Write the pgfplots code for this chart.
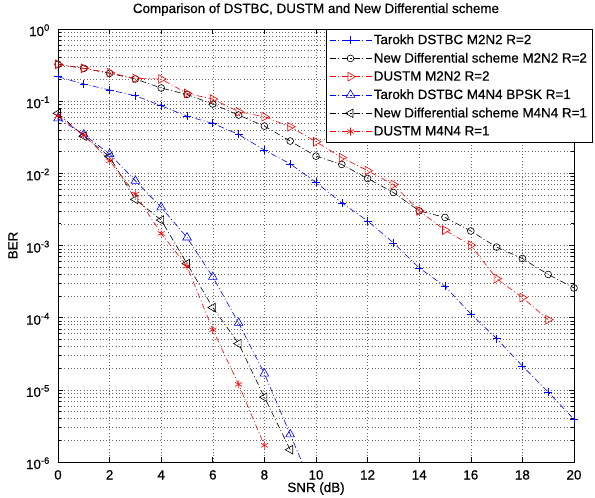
\documentclass[border=0pt]{standalone}
\usepackage{pgfplots}
\pgfplotsset{compat=1.18}
\usepackage{fontspec}
\setmainfont{Liberation Sans}
\newfontfamily\hv{Liberation Sans}[FakeBold=0.6]
\newcommand{\fs}{\fontsize{13.4}{15}\selectfont\hv}
\begin{document}
\begin{tikzpicture}
\path[use as bounding box] (-58pt,-36pt) rectangle (537pt,462pt);
\begin{axis}[
  at={(0pt,0pt)}, anchor=south west,
  scale only axis, width=516pt, height=433pt,
  xmin=0, xmax=20, ymode=log, ymin=1e-6, ymax=1,
  xtick={0,2,...,20},
  xticklabels={0,2,4,6,8,10,12,14,16,18,20},
  ytick={1e-6,1e-5,1e-4,1e-3,1e-2,1e-1,1},
  yticklabels={10\textsuperscript{-6},10\textsuperscript{-5},10\textsuperscript{-4},10\textsuperscript{-3},10\textsuperscript{-2},10\textsuperscript{-1},10\textsuperscript{0}},
  minor ytick={2e-6,3e-6,4e-6,5e-6,6e-6,7e-6,8e-6,9e-6,
               2e-5,3e-5,4e-5,5e-5,6e-5,7e-5,8e-5,9e-5,
               2e-4,3e-4,4e-4,5e-4,6e-4,7e-4,8e-4,9e-4,
               2e-3,3e-3,4e-3,5e-3,6e-3,7e-3,8e-3,9e-3,
               2e-2,3e-2,4e-2,5e-2,6e-2,7e-2,8e-2,9e-2,
               0.2,0.3,0.4,0.5,0.6,0.7,0.8,0.9},
  grid=both,
  major grid style={black!60, line width=0.5pt, dash pattern=on 0.6pt off 2.6pt},
  minor grid style={black!60, line width=0.5pt, dash pattern=on 0.6pt off 2.6pt},
  tick align=inside,
  major tick length=5pt, minor tick length=3pt,
  tick style={black, line width=0.6pt},
  axis line style={line width=0.8pt},
  tick label style={font=\fs},
  xticklabel style={anchor=base, inner sep=0pt, yshift=-17.5pt},
  yticklabel style={anchor=base east, inner sep=0pt, xshift=-8pt, yshift=-7pt},
  title={Comparison of DSTBC, DUSTM and New Differential scheme},
  title style={font=\fs, at={(rel axis cs:0.5,1)}, anchor=base, inner sep=0pt, yshift=10pt},
  xlabel={SNR (dB)},
  xlabel style={font=\fs, at={(rel axis cs:0.5,0)}, anchor=base, inner sep=0pt, yshift=-30pt},
  ylabel={BER},
  ylabel style={font=\fs, at={(rel axis cs:0,0.5)}, anchor=base, inner sep=0pt, yshift=40.5pt},
  legend cell align=left,
  legend style={at={(rel axis cs:0.519,1)}, anchor=north west, draw=black, line width=0.8pt, fill=white,
    font=\fs, inner sep=3pt, row sep=3.2pt,
    /tikz/every odd column/.append style={column sep=0pt},
    /tikz/every even column/.append style={column sep=9pt}},
  legend image code/.code={\draw[mark repeat=2,mark phase=2] plot coordinates {(0pt,0pt) (21pt,0pt) (42pt,0pt)};},
  every axis plot/.append style={line width=0.6pt, dash pattern=on 6pt off 2.5pt on 1pt off 2.5pt},
]
\addplot[blue, mark=+, mark size=4pt, mark options={solid}] coordinates {
(0,0.218) (1,0.173) (2,0.143) (3,0.119) (4,0.0863) (5,0.0621) (6,0.0492) (7,0.0346) (8,0.021) (9,0.01355) (10,0.00747)
(11,0.0039) (12,0.00219) (13,0.00109) (14,4.89e-4) (15,2.72e-4) (16,1.13e-4) (17,5.13e-5) (18,2.14e-5) (19,9.33e-6) (20,3.9e-6)};
\addlegendentry{Tarokh DSTBC M2N2 R=2}
\addplot[black, mark=o, mark size=3.4pt, mark options={solid}] coordinates {
(0,0.324) (1,0.285) (2,0.243) (3,0.203) (4,0.152) (5,0.124) (6,0.0912) (7,0.0642) (8,0.0451) (9,0.028) (10,0.0173)
(11,0.01327) (12,0.00849) (13,0.00543) (14,0.00302) (15,0.00245) (16,0.00159) (17,9.5e-4) (18,6.6e-4) (19,3.97e-4) (20,2.58e-4)};
\addlegendentry{New Differential scheme M2N2 R=2}
\addplot[red, mark=triangle, mark size=5pt, mark options={solid, rotate=-90}] coordinates {
(0,0.324) (1,0.285) (2,0.248) (3,0.207) (4,0.203) (5,0.128) (6,0.107) (7,0.0713) (8,0.0608) (9,0.0442) (10,0.0274)
(11,0.0165) (12,0.0109) (13,0.0070) (14,0.00302) (15,0.00163) (16,0.00101) (17,3.48e-4) (18,1.9e-4) (19,9.4e-5)};
\addlegendentry{DUSTM M2N2 R=2}
\addplot[blue, mark=triangle, mark size=5pt, mark options={solid}] coordinates {
(0,0.0577) (1,0.0346) (2,0.0185) (3,0.00787) (4,0.00338) (5,0.00129) (6,3.67e-4) (7,8.45e-5) (8,1.68e-5) (9,2.41e-6) (10,3.5e-7)};
\addlegendentry{Tarokh DSTBC M4N4 BPSK R=1}
\addplot[black, mark=triangle, mark size=5pt, mark options={solid, rotate=90}] coordinates {
(0,0.0678) (1,0.0328) (2,0.017) (3,0.00435) (4,0.00225) (5,5.6e-4) (6,1.38e-4) (7,4.37e-5) (8,7.9e-6) (9,1.48e-6)};
\addlegendentry{New Differential scheme M4N4 R=1}
\addplot[red, mark=asterisk, mark size=4pt, mark options={solid}] coordinates {
(0,0.0628) (1,0.0339) (2,0.0149) (3,0.00515) (4,0.00147) (5,5.16e-4) (6,6.8e-5) (7,1.19e-5) (8,1.7e-6)};
\addlegendentry{DUSTM M4N4 R=1}
\end{axis}
\end{tikzpicture}
\end{document}
